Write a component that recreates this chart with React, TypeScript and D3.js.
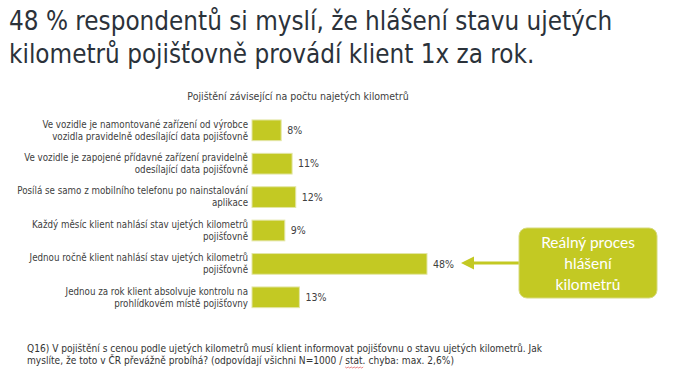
import React, { useEffect, useRef } from "react";
import * as d3 from "d3";

const titleLines = [
  "48 % respondentů si myslí, že hlášení stavu ujetých",
  "kilometrů pojišťovně provádí klient 1x za rok.",
];
const chartTitle = "Pojištění závisející na počtu najetých kilometrů";
const categories = [
  ["Ve vozidle je namontované zařízení od výrobce", "vozidla pravidelně odesílající data pojišťovně"],
  ["Ve vozidle je zapojené přídavné zařízení pravidelně", "odesílající data pojišťovně"],
  ["Posílá se samo z mobilního telefonu po nainstalování", "aplikace"],
  ["Každý měsíc klient nahlásí stav ujetých kilometrů", "pojišťovně"],
  ["Jednou ročně klient nahlásí stav ujetých kilometrů", "pojišťovně"],
  ["Jednou za rok klient absolvuje kontrolu na", "prohlídkovém místě pojišťovny"],
];
const values = [8, 11, 12, 9, 48, 13];
const calloutLines = ["Reálný proces", "hlášení", "kilometrů"];
const footerLines = [
  "Q16) V pojištění s cenou podle ujetých kilometrů musí klient informovat pojišťovnu o stavu ujetých kilometrů. Jak",
  "myslíte, že toto v ČR převážně probíhá? (odpovídají všichni N=1000 / stat. chyba: max. 2,6%)",
];

const W = 674;
const H = 374;
const GREEN = "#c3c923";
const FONT = "'DejaVu Sans Condensed', 'DejaVu Sans', sans-serif";

const App = () => {
  const svgRef = useRef<SVGSVGElement>(null);

  useEffect(() => {
    const svg = d3.select(svgRef.current);
    svg.selectAll("*").remove();

    svg.append("rect").attr("width", W).attr("height", H).attr("fill", "#fff");

    // headline
    svg
      .append("g")
      .selectAll("text")
      .data(titleLines)
      .join("text")
      .attr("x", 9)
      .attr("y", (d, i) => 30 + i * 33)
      .attr("font-family", FONT)
      .attr("font-size", 25.8)
      .attr("fill", "#2b323a")
      .text((d) => d);

    svg
      .append("text")
      .attr("x", 298)
      .attr("y", 100)
      .attr("text-anchor", "middle")
      .attr("font-family", FONT)
      .attr("font-size", 10.5)
      .attr("fill", "#404040")
      .text(chartTitle);

    // scales
    const idx = categories.map((d, i) => String(i));
    const y = d3.scaleBand().domain(idx).range([113.6, 314]).paddingInner(0.38).paddingOuter(0.19);
    const x = d3.scaleLinear().domain([0, 48]).range([252, 427]);

    const rows = svg
      .append("g")
      .selectAll("g")
      .data(values)
      .join("g");

    rows
      .append("rect")
      .attr("x", x(0))
      .attr("y", (d, i) => y(String(i))!)
      .attr("width", (d) => x(d) - x(0))
      .attr("height", y.bandwidth())
      .attr("fill", GREEN)
      .attr("stroke", "#e3e6a6")
      .attr("stroke-width", 1);

    rows
      .append("text")
      .attr("x", (d) => x(d) + 6)
      .attr("y", (d, i) => y(String(i))! + y.bandwidth() / 2)
      .attr("dy", "0.35em")
      .attr("font-family", FONT)
      .attr("font-size", 10.5)
      .attr("fill", "#404040")
      .text((d) => `${d}%`);

    rows
      .append("text")
      .attr("text-anchor", "end")
      .attr("font-family", FONT)
      .attr("font-size", 9.7)
      .attr("fill", "#404040")
      .selectAll("tspan")
      .data((d, i) => categories[i].map((t, j) => ({ t, j, i })))
      .join("tspan")
      .attr("x", 248)
      .attr("y", (d) => y(String(d.i))! + y.bandwidth() / 2 - 6 + d.j * 12)
      .attr("dy", "0.35em")
      .text((d) => d.t);

    // callout with arrow
    const arrowY = 263;
    svg
      .append("line")
      .attr("x1", 519)
      .attr("x2", 470)
      .attr("y1", arrowY)
      .attr("y2", arrowY)
      .attr("stroke", GREEN)
      .attr("stroke-width", 3);
    svg
      .append("path")
      .attr("d", d3.line()([[461, arrowY], [474, arrowY - 6.5], [474, arrowY + 6.5]]) + "Z")
      .attr("fill", GREEN);

    svg
      .append("rect")
      .attr("x", 519)
      .attr("y", 228)
      .attr("width", 138)
      .attr("height", 70)
      .attr("rx", 8)
      .attr("fill", GREEN)
      .attr("stroke", "#d6da7c")
      .attr("stroke-width", 1);

    svg
      .append("g")
      .selectAll("text")
      .data(calloutLines)
      .join("text")
      .attr("x", 588)
      .attr("y", (d, i) => 248 + i * 21)
      .attr("text-anchor", "middle")
      .attr("font-family", "Lato, 'Open Sans', sans-serif")
      .attr("font-size", 15.5)
      .attr("fill", "#fff")
      .text((d) => d);

    // footer
    const foot = svg
      .append("g")
      .selectAll("text")
      .data(footerLines)
      .join("text")
      .attr("x", 27)
      .attr("y", (d, i) => 352 + i * 12.3)
      .attr("font-family", FONT)
      .attr("font-size", 10.1)
      .attr("fill", "#333")
      .text((d) => d);

    // spell-check squiggle under "stat."
    const node = foot.nodes()[1] as SVGTextElement;
    const s = footerLines[1].indexOf("stat.");
    if (node && s >= 0) {
      const x0 = 27 + node.getSubStringLength(0, s);
      const w = node.getSubStringLength(s, 4);
      const pts: [number, number][] = [];
      for (let k = 0; k <= Math.round(w / 1.5); k++) pts.push([x0 + k * 1.5, 367 + (k % 2 ? 1 : 0)]);
      svg
        .append("path")
        .attr("d", d3.line()(pts))
        .attr("fill", "none")
        .attr("stroke", "#e05050")
        .attr("stroke-width", 0.7);
    }
  }, []);

  return (
    <svg
      ref={svgRef}
      width={W}
      height={H}
      style={{ position: "absolute", left: 0, top: 0, display: "block" }}
    ></svg>
  );
};

export default App;
